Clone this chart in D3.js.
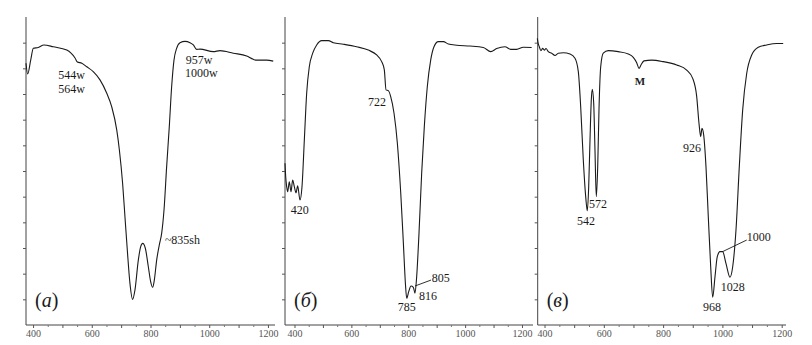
<!DOCTYPE html>
<html><head><meta charset="utf-8">
<script src="https://cdn.jsdelivr.net/npm/d3@7/dist/d3.min.js"></script>
<style>
html,body{margin:0;padding:0;background:#fff;}
svg{display:block;}
</style></head>
<body>
<svg id="chart" width="812" height="345"></svg>
<script>
// ---------------- DATA ----------------
// Panel (а): wavenumber (cm^-1), transmittance (arb. %)
const wnA = [376,381.7,392,401,418,437,469,515,543,551,566,583,605,628,651,668,685,694,705,713,721,730,739,747,758.5,766.6,773.4,782.4,792.6,800.5,807.4,813,821,830,838,846,855,864,872,880,889,900.5,917.5,934.5,946,957,968.6,1014,1036.7,1082,1127.6,1150,1161.7,1195.7,1218];
const tA  = [92,87.8,93.2,97.8,98.1,99.1,98.4,97.1,94,92.5,92,90.6,88.7,85.5,80.3,75,66,58.2,45.2,32.2,19.2,6.2,0,3.6,15.3,20.5,21.8,19.9,12.7,6.9,4.7,7.5,15.3,21.2,25.7,34.8,51.7,67.3,82.8,93.2,97.8,100,100.5,100,99.1,97.4,97.5,96.5,96.9,95.9,94.8,93.5,93.2,93.2,92.8];

// Panel (б)
const wnB = [366.6,369,372.5,376,381.8,387.7,393.5,399.4,405.3,411.2,419.3,426.4,434.6,442.8,452,464,478,495.6,518.9,536.6,571.6,618.5,659.6,689,706.6,715.9,721.8,730,738.3,750,761.7,773.6,782.9,790,794.6,801.6,809.7,817.9,823.7,829.6,837.8,847.2,856.5,867,878.9,890.5,905.8,923.4,940.9,970.3,1017,1064,1090,1111,1140,1160,1181.2,1204.6,1234];
const tB  = [53,47.8,43.9,41.9,45.8,41.9,46.5,43.9,41.5,44.2,38.7,43.9,62.1,80.3,90.6,95.9,99.1,100.8,100.8,100,99.4,98.4,97.1,95.2,92.6,89.4,81.6,81.3,79,72.5,60.8,41.4,21.8,6.2,0.4,3,5.2,4.7,2.4,8.8,25.7,49.1,67.3,82.8,93.2,98.4,100.4,100.4,99.5,99,98.7,98.1,96.5,97.7,98.4,97.4,97.4,98.2,98.1];

// Panel (в)
const wnC = [375.7,378,382.4,388,393.9,399.3,405,412.8,424.2,435.4,446.5,463.3,486,502.8,514,522,530.8,538.9,544.3,549,553.4,557.8,561.2,565.9,570.2,574.6,579.4,583.7,589.5,598.2,615,648.8,682.6,699.4,710.9,718.6,725.4,735.5,761.5,800.6,845.8,879.5,899.8,913.3,921,926.7,931.1,936.9,944.6,952.4,960.5,967.2,975,982.7,991.8,1000.9,1012,1025.5,1034.7,1045.8,1057,1068.4,1081.9,1098.8,1121,1149.3,1183,1205];
const tC  = [101.7,100,98.4,96.9,97.8,97.1,97.7,96.5,95.9,95,95.9,96.1,95.6,93.9,88.7,75,54.3,40,34.5,43.9,62.1,77.7,81.8,76.4,58.2,40,51.7,73.8,90.6,95.9,96.9,96.5,95.6,94.3,92.2,90,91.3,92.9,93.2,92.6,91.3,89.3,86.1,79,68.6,63.4,66.6,64,51.7,32.2,12.7,0.8,8.8,16.6,18.6,18.6,14,8.6,12.7,27,51.7,73.8,88,95.2,98.2,99.1,99.7,99.7];

// Tick labels
const xMajorTicks = [400,500,600,700,800,900,1000,1100,1200];
const xLabelTicks = [400,600,800,1000,1200];
const xMinorTicks = [450,550,650,750,850,950,1050,1150];
const yTicks = [0,10,20,30,40,50,60,70,80,90,100];

// Panel letters
const panelLetters = ["а","б","в"];

// Peak annotations: [text, wavenumber, transmittance]
const annA = [["544w",486,85.73],["564w",486,80.54],["957w",920,91.88],["1000w",917.5,86.7],["~835sh",849,21.6]];
const annB = [["722",658.5,75.4],["420",386.6,33.2],["785",762.9,-4.5],["816",837.8,-0.3],["805",882.5,6.8]];
const annC = [["926",867,57.5],["542",509.5,29.1],["572",550,35.6],["968",934.5,-4.5],["1028",994.2,3.2],["1000",1081.9,22.7]];
const markC = [["M",722,83.5]];
// leader lines [wn1,t1,wn2,t2]
const leadB = [[823.7,5.2,880,7.5]];
const leadC = [[1001,18.6,1082,23.1]];

// ---------------- LAYOUT ----------------
const yTop = 17, yBot = 325;
const panels = [
  {wn: wnA, t: tA, dom: [376,1224], rng: [26,275], ann: annA, lead: [], mark: [], letter: panelLetters[0]},
  {wn: wnB, t: tB, dom: [366.6,1238.7], rng: [285,533], ann: annB, lead: leadB, mark: [], letter: panelLetters[1]},
  {wn: wnC, t: tC, dom: [377,1214.5], rng: [537.7,786], ann: annC, lead: leadC, mark: markC, letter: panelLetters[2]}
];

const svg = d3.select("#chart");
const y = d3.scaleLinear().domain([-10,110]).range([yBot,yTop]);
const serif = "'Liberation Serif','DejaVu Serif',serif";

panels.forEach(p => {
  const x = d3.scaleLinear().domain(p.dom).range(p.rng);
  const g = svg.append("g");

  // x axis (major)
  const ax = g.append("g").attr("transform",`translate(0,${yBot})`)
    .call(d3.axisBottom(x).tickValues(xMajorTicks).tickSize(3).tickPadding(2)
      .tickFormat(d => xLabelTicks.includes(d) ? d : ""));
  ax.select(".domain").attr("d", `M${p.rng[0]},0H${p.rng[1]}`).attr("stroke","#444");
  ax.selectAll(".tick line").attr("stroke","#555");
  ax.selectAll("text").attr("font-family",serif).attr("font-size",10).attr("fill","#555");
  // minor ticks
  const axm = g.append("g").attr("transform",`translate(0,${yBot})`)
    .call(d3.axisBottom(x).tickValues(xMinorTicks).tickSize(2).tickFormat(""));
  axm.select(".domain").remove();
  axm.selectAll(".tick line").attr("stroke","#777");

  // y axis
  const ay = g.append("g").attr("transform",`translate(${p.rng[0]},0)`)
    .call(d3.axisLeft(y).tickValues(yTicks).tickSize(3).tickFormat(""));
  ay.select(".domain").attr("d", `M0,${yTop}V${yBot}`).attr("stroke","#444");
  ay.selectAll(".tick line").attr("stroke","#555");

  // spectrum line
  const pts = p.wn.map((w,i) => [w, p.t[i]]);
  g.append("path").datum(pts)
    .attr("fill","none").attr("stroke","#1a1a1a").attr("stroke-width",1.1)
    .attr("stroke-linejoin","round")
    .attr("d", d3.line().x(d => x(d[0])).y(d => y(d[1])).curve(d3.curveMonotoneX));

  // annotations
  g.selectAll("text.ann").data(p.ann).enter().append("text").attr("class","ann")
    .attr("x", d => x(d[1])).attr("y", d => y(d[2]))
    .attr("font-family",serif).attr("font-size",12).attr("fill","#1a1a1a")
    .text(d => d[0]);
  g.selectAll("text.mark").data(p.mark).enter().append("text").attr("class","mark")
    .attr("x", d => x(d[1])).attr("y", d => y(d[2])).attr("text-anchor","middle")
    .attr("font-family",serif).attr("font-size",11).attr("font-weight","bold").attr("fill","#1a1a1a")
    .text(d => d[0]);
  g.selectAll("line.lead").data(p.lead).enter().append("line").attr("class","lead")
    .attr("x1", d => x(d[0])).attr("y1", d => y(d[1]))
    .attr("x2", d => x(d[2])).attr("y2", d => y(d[3]))
    .attr("stroke","#1a1a1a").attr("stroke-width",0.9);

  // panel letter
  const lt = g.append("text").attr("x", x(p.dom[0]) + 9).attr("y", y(-3))
    .attr("font-family",serif).attr("font-size",20).attr("fill","#1a1a1a");
  lt.append("tspan").text("(");
  lt.append("tspan").attr("font-style","italic").text(p.letter);
  lt.append("tspan").text(")");
});
</script>
</body></html>
